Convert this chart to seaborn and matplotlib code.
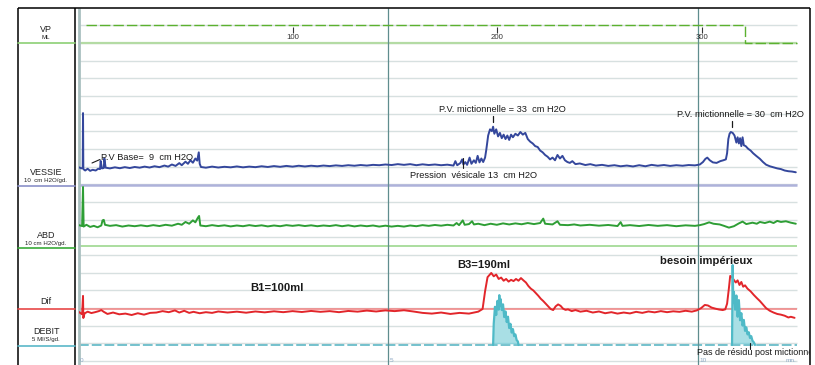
import matplotlib
matplotlib.use("Agg")
import numpy as np
import pandas as pd
import matplotlib.pyplot as plt
import seaborn as sns
from matplotlib.patches import Rectangle

sns.set_style("white")
plt.rcParams['font.family'] = ['Liberation Sans', 'DejaVu Sans']
plt.rcParams['lines.scale_dashes'] = False

# ---------------- data (time in minutes) ----------------
vessie_t = [0.00, 0.04, 0.06, 0.065, 0.07, 0.10, 0.14, 0.18, 0.22, 0.27, 0.31, 0.34, 0.35, 0.37, 0.40, 0.41, 0.43,
            0.50, 0.58, 0.66, 0.74, 0.82, 0.90, 0.98, 1.06, 1.14, 1.22, 1.30, 1.38, 1.44, 1.50, 1.56, 1.62, 1.66,
            1.72, 1.76, 1.80, 1.84, 1.88, 1.91, 1.935, 1.95, 1.97, 2.05, 2.15, 2.25, 2.35, 2.45, 2.55, 2.65, 2.75,
            2.85, 2.95, 3.05, 3.15, 3.25, 3.35, 3.45, 3.55, 3.65, 3.75, 3.85, 3.95, 4.05, 4.15, 4.25, 4.35, 4.45,
            4.55, 4.65, 4.75, 4.85, 4.95, 5.05, 5.15, 5.25, 5.35, 5.45, 5.55, 5.65, 5.75, 5.85, 5.95, 6.05, 6.08,
            6.11, 6.16, 6.19, 6.21, 6.24, 6.27, 6.31, 6.34, 6.38, 6.41, 6.44, 6.47, 6.50, 6.53, 6.56, 6.58, 6.61,
            6.64, 6.67, 6.69, 6.71, 6.74, 6.77, 6.80, 6.83, 6.86, 6.89, 6.92, 6.95, 6.98, 7.01, 7.05, 7.09, 7.13,
            7.17, 7.21, 7.25, 7.29, 7.33, 7.37, 7.41, 7.45, 7.49, 7.53, 7.57, 7.61, 7.65, 7.69, 7.73, 7.77, 7.81,
            7.85, 7.89, 7.93, 7.97, 8.02, 8.09, 8.18, 8.26, 8.35, 8.45, 8.55, 8.65, 8.75, 8.85, 8.95, 9.05, 9.15,
            9.25, 9.35, 9.45, 9.55, 9.65, 9.75, 9.85, 9.95, 10.03, 10.08, 10.12, 10.15, 10.19, 10.24, 10.30, 10.36,
            10.41, 10.45, 10.47, 10.49, 10.51, 10.53, 10.56, 10.59, 10.62, 10.64, 10.66, 10.68, 10.70, 10.72, 10.74,
            10.77, 10.81, 10.85, 10.89, 10.94, 11.00, 11.05, 11.10, 11.16, 11.22, 11.28, 11.34, 11.40, 11.46, 11.52,
            11.58]
vessie_cmh2o = [10.0, 9.4, 9.8, 40.7, 9.0, 8.2, 9.2, 8.0, 8.6, 8.2, 9.2, 9.0, 13.6, 9.4, 9.6, 15.0, 9.8,
                9.4, 10.0, 9.5, 10.1, 9.6, 10.2, 9.8, 10.4, 9.9, 10.6, 10.1, 11.0, 10.4, 11.6, 10.8, 12.4, 11.2,
                13.2, 12.0, 14.0, 12.6, 15.0, 13.8, 18.5, 12.0, 10.2, 9.8, 10.4, 9.9, 10.3, 10.0, 10.5, 10.0, 10.4,
                10.1, 10.6, 10.2, 10.7, 10.3, 10.8, 10.4, 10.9, 10.5, 10.9, 10.6, 11.0, 10.7, 11.1, 10.8, 11.2, 10.9,
                11.3, 11.0, 11.4, 11.2, 11.6, 11.3, 11.8, 11.4, 11.8, 11.2, 11.7, 11.3, 11.6, 11.2, 11.5, 11.0, 13.5,
                11.2, 12.4, 14.5, 11.6, 13.0, 11.4, 15.5, 12.0, 14.0, 12.5, 16.5, 12.8, 15.0, 13.0, 15.5, 20.0, 28.0,
                31.5, 30.5, 33.0, 29.0, 31.5, 27.5, 29.5, 26.5, 28.5, 26.0, 28.0, 25.5, 28.5, 27.0, 29.0, 28.0, 30.0,
                28.5, 29.5, 26.0, 24.5, 23.5, 22.0, 21.5, 19.5, 18.5, 17.0, 16.0, 14.5, 15.5, 14.0, 17.0, 15.0, 16.5,
                14.0, 13.0, 12.5, 13.5, 11.8, 12.2, 11.3, 11.8, 11.0, 11.4, 10.8, 11.2, 10.6, 11.0, 10.5, 11.2, 10.6,
                11.4, 10.9, 11.3, 10.8, 11.2, 10.9, 11.3, 11.1, 11.6, 13.0, 14.8, 15.5, 14.0, 12.8, 12.5, 13.5,
                14.0, 14.5, 18.0, 26.0, 29.0, 30.0, 29.5, 28.0, 24.0, 27.0, 23.5, 26.5, 22.0, 27.0, 22.5,
                22.0, 20.5, 19.5, 18.0, 16.5, 14.8, 13.0, 11.5, 10.6, 10.0, 9.4, 9.0, 8.2, 7.8, 7.6,
                7.2]

abd_t = [0.00, 0.05, 0.065, 0.075, 0.12, 0.18, 0.24, 0.30, 0.36, 0.38, 0.40, 0.42, 0.50, 0.60, 0.70, 0.80, 0.90,
         1.00, 1.10, 1.20, 1.30, 1.40, 1.50, 1.60, 1.66, 1.72, 1.78, 1.84, 1.88, 1.92, 1.94, 1.96, 2.05, 2.15,
         2.25, 2.35, 2.45, 2.55, 2.65, 2.75, 2.85, 2.95, 3.05, 3.15, 3.25, 3.35, 3.45, 3.55, 3.65, 3.75, 3.85,
         3.95, 4.05, 4.15, 4.25, 4.35, 4.45, 4.55, 4.65, 4.75, 4.85, 4.95, 5.05, 5.15, 5.25, 5.35, 5.45, 5.55,
         5.65, 5.75, 5.85, 5.95, 6.05, 6.10, 6.14, 6.20, 6.23, 6.30, 6.35, 6.38, 6.45, 6.55, 6.65, 6.75, 6.85,
         6.95, 7.05, 7.15, 7.25, 7.35, 7.45, 7.50, 7.53, 7.65, 7.73, 7.77, 7.90, 8.00, 8.10, 8.25, 8.40, 8.55,
         8.70, 8.75, 8.78, 8.90, 9.05, 9.20, 9.35, 9.50, 9.65, 9.80, 9.95, 10.03, 10.10, 10.18, 10.25, 10.35,
         10.42, 10.50, 10.58, 10.66, 10.72, 10.78, 10.88, 10.95, 11.00, 11.08, 11.16, 11.22, 11.28, 11.34,
         11.42, 11.50, 11.58]
abd_cmh2o = [11.8, 11.3, 33.4, 11.0, 12.0, 10.8, 11.4, 10.6, 11.6, 14.5, 14.8, 12.0, 11.4, 11.8, 11.0, 11.6, 11.2,
             11.7, 11.2, 11.8, 11.3, 12.0, 11.5, 12.6, 12.0, 13.6, 12.6, 14.5, 13.4, 16.0, 17.0, 11.6, 11.2, 11.8,
             11.3, 11.7, 11.1, 11.6, 11.2, 11.8, 11.3, 11.7, 11.1, 11.6, 11.2, 11.8, 11.4, 11.8, 11.3, 11.7, 11.2,
             11.6, 11.3, 11.8, 11.2, 11.7, 11.1, 11.6, 11.2, 11.6, 11.0, 11.5, 11.0, 11.4, 11.0, 11.6, 11.2, 11.8,
             11.4, 11.9, 11.5, 12.0, 11.6, 13.0, 11.8, 14.5, 12.0, 12.4, 14.0, 12.2, 12.6, 11.8, 12.6, 12.0, 12.8,
             12.2, 12.8, 12.3, 13.0, 12.4, 13.0, 15.5, 12.6, 12.2, 14.0, 12.0, 11.8, 12.2, 11.6, 12.0, 11.5, 11.9,
             11.3, 13.5, 11.4, 11.8, 11.3, 11.9, 11.4, 11.8, 11.2, 11.7, 11.4, 11.8, 12.4, 13.4, 12.6, 12.2,
             11.4, 10.4, 11.2, 12.8, 13.8, 12.4, 13.2, 12.6, 13.6, 13.0, 13.8, 13.0, 14.2, 13.6,
             14.0, 13.2, 12.6]

dif_t = [0.00, 0.05, 0.065, 0.07, 0.09, 0.14, 0.20, 0.26, 0.32, 0.36, 0.40, 0.46, 0.55, 0.65, 0.75, 0.85, 0.95,
         1.05, 1.15, 1.25, 1.35, 1.45, 1.55, 1.62, 1.70, 1.78, 1.85, 1.95, 2.05, 2.15, 2.25, 2.40, 2.55, 2.70,
         2.85, 3.00, 3.15, 3.30, 3.45, 3.60, 3.75, 3.90, 4.05, 4.20, 4.35, 4.50, 4.65, 4.80, 4.95, 5.10, 5.25,
         5.40, 5.55, 5.70, 5.85, 6.00, 6.15, 6.30, 6.45, 6.52, 6.56, 6.60, 6.66, 6.70, 6.74, 6.78, 6.82, 6.86,
         6.90, 6.94, 6.98, 7.02, 7.06, 7.10, 7.14, 7.18, 7.22, 7.26, 7.30, 7.34, 7.38, 7.42, 7.46, 7.50, 7.54,
         7.58, 7.62, 7.66, 7.70, 7.74, 7.78, 7.82, 7.86, 7.90, 7.96, 8.02, 8.10, 8.20, 8.30, 8.40, 8.50, 8.60,
         8.70, 8.80, 8.90, 9.00, 9.10, 9.20, 9.30, 9.40, 9.50, 9.60, 9.70, 9.80, 9.90, 9.98, 10.05, 10.11,
         10.16, 10.22, 10.28, 10.34, 10.40, 10.44, 10.47, 10.50, 10.52, 10.55, 10.58, 10.61, 10.64, 10.67,
         10.70, 10.73, 10.76, 10.80, 10.85, 10.90, 10.95, 11.00, 11.05, 11.10, 11.16, 11.22, 11.28, 11.34,
         11.40, 11.46, 11.50, 11.56]
dif_cmh2o = [-1.7, -3.0, 7.4, -5.1, -2.5, -1.5, -2.3, -1.8, -1.2, -0.6, -1.6, -2.8, -2.0, -3.0, -2.6, -3.4, -2.4,
             -3.2, -2.2, -2.0, -1.2, -1.8, -0.8, -2.0, -1.0, -2.2, -1.6, -2.4, -1.8, -2.2, -1.4, -2.0, -1.5, -2.1,
             -1.4, -1.9, -1.3, -1.8, -1.2, -1.7, -1.1, -1.6, -1.2, -1.8, -1.1, -1.5, -0.9, -1.4, -0.8, -1.2, -0.7,
             -1.4, -2.2, -2.6, -2.0, -2.8, -2.2, -2.6, -1.5, 0.0, 10.0, 18.0, 20.4, 18.5, 19.5, 17.0, 17.8, 16.0,
             17.0, 15.5, 16.5, 15.8, 17.0, 16.0, 17.5, 16.2, 15.0, 13.0, 11.5, 10.5, 9.0, 7.5, 5.8, 4.5, 3.0,
             1.5, 0.0, -0.6, 1.5, 2.6, 1.8, 0.2, -0.5, -0.2, -1.2, -0.6, -1.5, -1.0, -2.0, -1.4, -2.4, -1.8,
             -2.6, -2.0, -2.5, -1.6, -2.2, -1.4, -1.9, -1.2, -1.8, -1.3, -1.6, -1.0, -1.5, -0.8, 0.5, 2.3,
             2.0, 0.8, 0.2, -0.3, -0.6, -0.2, 3.0, 12.0, 18.7, 18.0, 16.4, 15.0, 16.2, 13.6,
             15.3, 12.6, 13.4, 11.5, 10.0, 8.0, 6.2, 4.5, 2.5, 0.5, -1.0, -2.0, -2.8, -3.2,
             -3.8, -4.8, -4.4, -5.0]

debit1_t = [6.69, 6.70, 6.72, 6.74, 6.76, 6.78, 6.79, 6.80, 6.81, 6.83, 6.85, 6.87, 6.89, 6.91, 6.93, 6.95,
            6.97, 6.99, 7.01, 7.03, 7.05, 7.07, 7.09, 7.10]
debit1_mls = [0.0, 6.0, 10.8, 8.5, 12.5, 10.0, 14.1, 11.0, 13.0, 9.9, 11.5, 7.9, 9.5, 6.5, 8.0, 4.8,
              6.0, 3.5, 4.5, 2.5, 3.0, 1.4, 1.0, 0.0]
debit2_t = [10.55, 10.56, 10.57, 10.58, 10.60, 10.62, 10.64, 10.66, 10.68, 10.70, 10.72, 10.74, 10.76, 10.78,
            10.80, 10.82, 10.84, 10.86, 10.88, 10.90, 10.92]
debit2_mls = [0.0, 22.6, 12.0, 15.0, 10.0, 14.0, 8.0, 12.7, 7.0, 9.0, 5.5, 7.1, 4.0, 5.0,
              3.0, 3.6, 2.0, 2.5, 1.2, 0.8, 0.0]

vp_t = [0.11, 10.76, 10.76, 11.60]
vp_level = [1, 1, 0, 0]

vol_ticks_ml = [100, 200, 300]
time_ticks_min = [0, 5, 10]
time_tick_labels = ["0", "5", "10"]

# ---------------- layout ----------------
W, H = 815, 365
fig = plt.figure(figsize=(W / 100, H / 100), dpi=100)

PX0, PX1, PY0, PY1 = 79, 810, 8, 365
PX_PER_MIN = 61.9
DIV = 17.67          # pixels per grid division
YREF = 361           # pixel row of grid division 0

ax = fig.add_axes([PX0 / W, 1 - PY1 / H, (PX1 - PX0) / W, (PY1 - PY0) / H])
ax.set_xlim(0, (PX1 - PX0) / PX_PER_MIN)
ax.set_ylim((YREF - PY1) / DIV, (YREF - PY0) / DIV)
ax.axis('off')

ov = fig.add_axes([0, 0, 1, 1], zorder=5)
ov.set_xlim(0, W)
ov.set_ylim(H, 0)
ov.axis('off')
ov.patch.set_alpha(0)

T_END = (797 - PX0) / PX_PER_MIN

# baselines (in divisions)
VP_BASE = 18
VES_BASE = (YREF - 185) / DIV
ABD_BASE = (YREF - 246) / DIV
DIF_BASE = (YREF - 309) / DIV
DEB_BASE = (YREF - 345) / DIV
P_SCALE = 10.0   # cm H2O per division
D_SCALE = 5.0    # ml/s per division

# grid
for k in range(0, 20):
    ax.hlines(k, 0, T_END, color='#d7e0e0', lw=1.0, zorder=1)

# channel zero lines
ax.hlines(VP_BASE, 0, T_END, color='#b4dba4', lw=1.6, zorder=2)
ax.hlines(VES_BASE, 0, T_END, color='#aeb2da', lw=1.8, zorder=2)
ax.hlines(ABD_BASE, 0, T_END, color='#95d485', lw=1.1, zorder=2)
ax.hlines(DIF_BASE, 0, T_END, color='#f28080', lw=1.1, zorder=2)
ax.hlines(DEB_BASE, 0, T_END, color='#4fb1c0', lw=1.1, linestyles=(0, (7, 2.2)), zorder=2)

# vertical time lines
ylo, yhi = ax.get_ylim()
ax.vlines([5, 10], ylo, yhi, color='#5f8d8e', lw=0.9, zorder=3)
ax.vlines([0], ylo, yhi, color='#a9c0c0', lw=2.0, zorder=3, clip_on=False)

# VP dashed
vp_df = pd.DataFrame({'t': vp_t, 'y': [VP_BASE + v for v in vp_level]})
sns.lineplot(data=vp_df, x='t', y='y', ax=ax, color='#5bb12f', lw=1.0, estimator=None, sort=False,
             dashes=False, zorder=4)
ax.lines[-1].set_linestyle((0, (7.5, 2.2)))

# traces
ves_df = pd.DataFrame({'t': vessie_t, 'y': [VES_BASE + v / P_SCALE for v in vessie_cmh2o]})
abd_df = pd.DataFrame({'t': abd_t, 'y': [ABD_BASE + v / P_SCALE for v in abd_cmh2o]})
dif_df = pd.DataFrame({'t': dif_t, 'y': [DIF_BASE + v / P_SCALE for v in dif_cmh2o]})
sns.lineplot(data=ves_df, x='t', y='y', ax=ax, color='#34479c', lw=1.4, estimator=None, sort=False, zorder=6)
sns.lineplot(data=abd_df, x='t', y='y', ax=ax, color='#2e9e35', lw=1.4, estimator=None, sort=False, zorder=6)
sns.lineplot(data=dif_df, x='t', y='y', ax=ax, color='#e2262b', lw=1.4, estimator=None, sort=False, zorder=6)

for dt, dv in ((debit1_t, debit1_mls), (debit2_t, debit2_mls)):
    ddf = pd.DataFrame({'t': dt, 'y': [DEB_BASE + v / D_SCALE for v in dv]})
    ax.fill_between(ddf['t'], DEB_BASE + 0.1, ddf['y'], color='#a9dfe5', lw=0, zorder=5)
    ax.hlines(DEB_BASE + 0.1, ddf['t'].iloc[0], ddf['t'].iloc[-1], color='#8ed3dc', lw=1.0, zorder=5)
    sns.lineplot(data=ddf, x='t', y='y', ax=ax, color='#4fbac7', lw=1.6, estimator=None, sort=False, zorder=6)

# ---------------- frame & label column ----------------
fk = dict(color='black', lw=1.1, solid_capstyle='butt')
ov.plot([18, 810], [8, 8], **fk)
ov.plot([18, 18], [8, 365], **fk)
ov.plot([75, 75], [8, 365], **fk)
ov.plot([810, 810], [8, 365], **fk)

ov.plot([18, 75], [43, 43], color='#8ccf74', lw=1.2)
ov.plot([18, 75], [185.5, 185.5], color='#8a90c8', lw=1.2)
ov.plot([18, 75], [248, 248], color='#3aaa3a', lw=1.2)
ov.plot([18, 75], [309, 309], color='#e84848', lw=1.2)
ov.plot([18, 75], [346, 346], color='#5ab8c8', lw=1.2)

lab = dict(ha='center', va='baseline', color='#222222')
ov.text(46, 32, 'VP', fontsize=6.5, **lab)
ov.text(46, 39, 'ML', fontsize=4.4, **lab)
ov.text(46, 175, 'VESSIE', fontsize=6.5, **lab)
ov.text(46, 182, '10  cm H2O/gd.', fontsize=4.4, **lab)
ov.text(46, 238, 'ABD', fontsize=6.5, **lab)
ov.text(46, 245, '10 cm H2O/gd.', fontsize=4.4, **lab)
ov.text(46, 304, 'Dif', fontsize=6.5, **lab)
ov.text(46, 334, 'DEBIT', fontsize=6.5, **lab)
ov.text(46, 341, '5 Ml/S/gd.', fontsize=4.4, **lab)

# volume ticks on VP line
VP_START_MIN = 0.16
VP_RATE = 30.3  # ml per minute
for v in vol_ticks_ml:
    tv = VP_START_MIN + v / VP_RATE
    ax.vlines(tv, VP_BASE + 0.55, VP_BASE + 0.9, color='#333333', lw=0.8, zorder=7)
    ax.text(tv, VP_BASE + 0.3, str(v), fontsize=5.6, ha='center', va='center', color='#333333')

# time tick labels
for tt, tl in zip(time_ticks_min, time_tick_labels):
    ax.text(tt + 0.02, (YREF - 361) / DIV, tl, fontsize=4.6, ha='left', va='center', color='#8ea9c4')
ax.text(11.42, (YREF - 361) / DIV, 'mn.', fontsize=4.6, ha='left', va='center', color='#8ea9c4')

# annotations (pixel coordinates)
ann = dict(fontsize=6.7, color='#1a1a1a', va='baseline')
ov.text(101, 160, 'P.V Base=  9  cm H2O', ha='left', **ann)
ov.plot([92, 100], [163, 159.5], color='#1a1a1a', lw=0.8)
ov.text(502, 112, 'P.V. mictionnelle = 33  cm H2O', ha='center', **ann)
ov.plot([493, 493], [116, 122], color='#1a1a1a', lw=0.9)
ov.text(740, 117, 'P.V. mictionnelle = 30  cm H2O', ha='center', **ann)
ov.plot([732, 732], [121, 127], color='#1a1a1a', lw=0.9)
ov.text(410, 178, 'Pression  vésicale 13  cm H2O', ha='left', **ann)
ov.plot([463, 463], [158, 168], color='#1a1a1a', lw=0.8)

bold = dict(fontsize=8.1, fontweight='bold', color='#1a1a1a', va='baseline')
ov.text(250, 291, 'B1=100ml', ha='left', **bold)
ov.text(457, 268, 'B3=190ml', ha='left', **bold)
ov.text(660, 264, 'besoin impérieux', ha='left', **bold)

clip_rect = Rectangle((18, 8), 792, 357, transform=ov.transData, facecolor='none', edgecolor='none')
ov.add_patch(clip_rect)
residu = ov.text(697, 355, 'Pas de résidu post mictionnel', ha='left', fontsize=6.5, color='#1a1a1a',
                 va='baseline', clip_on=True)
residu.set_clip_path(clip_rect)
ov.plot([750, 750], [343, 349], color='#1a1a1a', lw=0.8)

fig.savefig('out.png', dpi=100)
